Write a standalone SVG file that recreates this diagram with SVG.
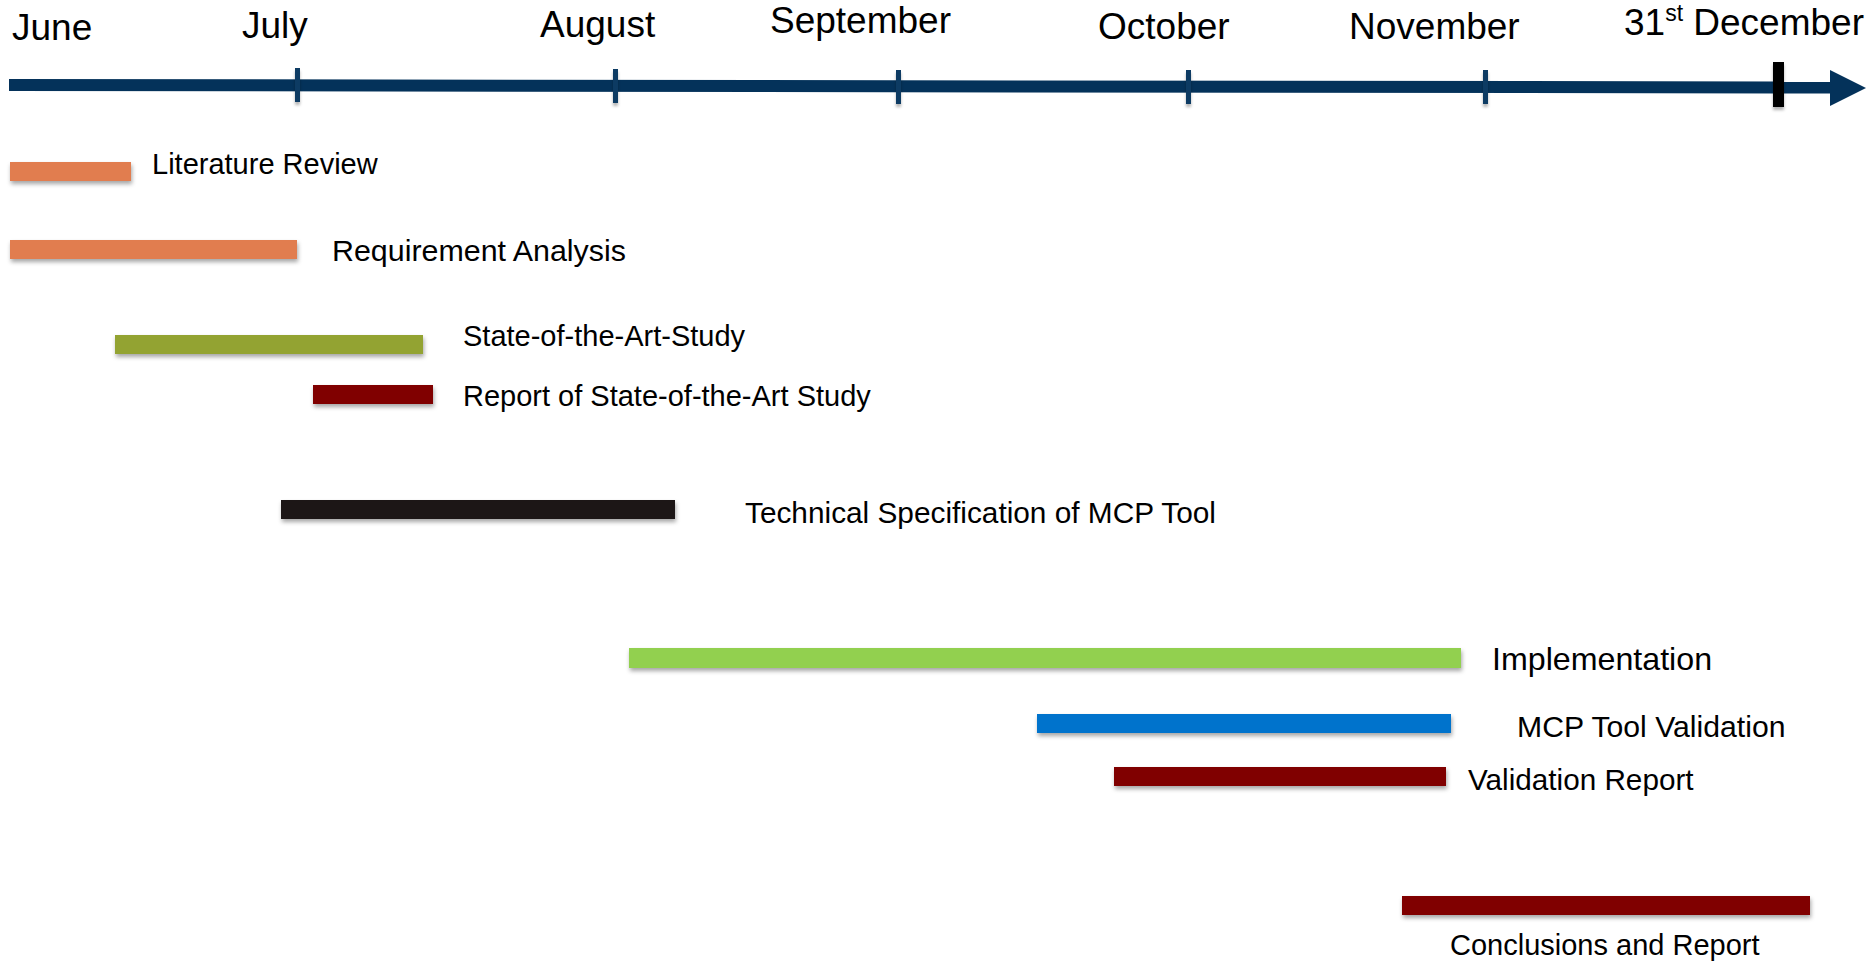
<svg xmlns="http://www.w3.org/2000/svg" width="1872" height="963" viewBox="0 0 1872 963">
<style>
text{font-family:"Liberation Sans",Arial,sans-serif;fill:#000}
.m{font-size:37px}
.l{font-size:29px}
.bar{filter:url(#sh)}
.tick{fill:#0b3a63;filter:url(#sh2)}
</style>
<defs>
<filter id="sh" x="-5%" y="-50%" width="110%" height="250%">
<feDropShadow dx="1" dy="3" stdDeviation="2" flood-color="#000" flood-opacity="0.35"/>
</filter>
<filter id="sh2" x="-100%" y="-20%" width="300%" height="150%">
<feDropShadow dx="0" dy="3" stdDeviation="1.5" flood-color="#000" flood-opacity="0.3"/>
</filter>
</defs>
<rect width="1872" height="963" fill="#fff"/>
<g id="timeline-axis">
<polygon points="9,79 1832,81.5 1832,93.5 9,91" fill="#04325a"/>
<polygon points="1830,70 1866,88 1830,106" fill="#04325a"/>
<rect class="tick" x="295" y="68" width="5" height="34"/>
<rect class="tick" x="613" y="69" width="5" height="34"/>
<rect class="tick" x="896" y="70" width="5" height="34"/>
<rect class="tick" x="1186" y="70" width="5" height="34"/>
<rect class="tick" x="1483" y="70" width="5" height="34"/>
<rect x="1773" y="62" width="11" height="45" fill="#000" filter="url(#sh2)"/>
</g>
<g id="month-labels">
<text class="m" x="12" y="40">June</text>
<text class="m" x="242" y="38">July</text>
<text class="m" x="540" y="37">August</text>
<text class="m" x="770" y="33">September</text>
<text class="m" x="1098" y="39">October</text>
<text class="m" x="1349" y="39">November</text>
<text class="m" x="1624" y="35">31<tspan style="font-size:23px" dy="-14">st</tspan><tspan dy="14"> December</tspan></text>
</g>
<g id="literature-review">
<rect class="bar" x="10" y="162" width="121" height="19" fill="#e17d4f"/>
<text class="l" x="152" y="174">Literature Review</text>
</g>
<g id="requirement-analysis">
<rect class="bar" x="10" y="240" width="287" height="19" fill="#e17d4f"/>
<text class="l" x="332" y="261" style="font-size:30.4px">Requirement Analysis</text>
</g>
<g id="state-of-the-art-study">
<rect class="bar" x="115" y="335" width="308" height="19" fill="#93a333"/>
<text class="l" x="463" y="346">State-of-the-Art-Study</text>
</g>
<g id="report-state-of-the-art">
<rect class="bar" x="313" y="385" width="120" height="19" fill="#800000"/>
<text class="l" x="463" y="406">Report of State-of-the-Art Study</text>
</g>
<g id="technical-specification">
<rect class="bar" x="281" y="500" width="394" height="19" fill="#1a1915"/>
<text class="l" x="745" y="523" style="font-size:29.8px">Technical Specification of MCP Tool</text>
</g>
<g id="implementation">
<rect class="bar" x="629" y="648" width="832" height="20" fill="#92d050"/>
<text class="l" x="1492" y="670" style="font-size:32.2px">Implementation</text>
</g>
<g id="mcp-tool-validation">
<rect class="bar" x="1037" y="714" width="414" height="19" fill="#0073cc"/>
<text class="l" x="1517" y="737" style="font-size:30.2px">MCP Tool Validation</text>
</g>
<g id="validation-report">
<rect class="bar" x="1114" y="767" width="332" height="19" fill="#800000"/>
<text class="l" x="1468" y="790" style="font-size:29.7px">Validation Report</text>
</g>
<g id="conclusions-and-report">
<rect class="bar" x="1402" y="896" width="408" height="19" fill="#800000"/>
<text class="l" x="1450" y="955">Conclusions and Report</text>
</g>
</svg>
